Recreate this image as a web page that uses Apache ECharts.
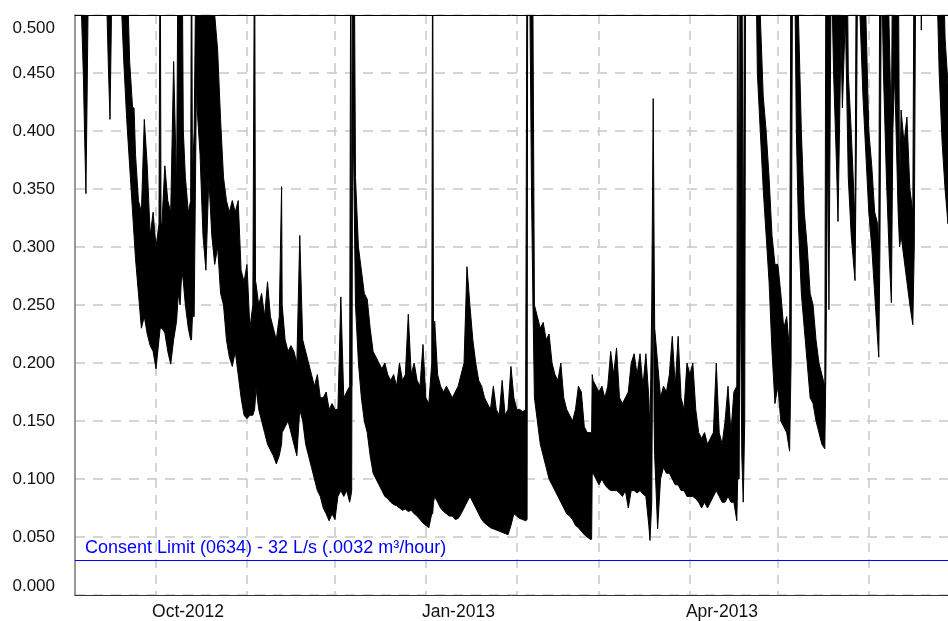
<!DOCTYPE html>
<html><head><meta charset="utf-8">
<script src="https://cdn.jsdelivr.net/npm/echarts@6/dist/echarts.min.js"></script>
<style>html,body{margin:0;padding:0;background:#fff}#c{width:948px;height:621px}</style>
</head><body><div id="c"></div>
<script>
// Flow record (m3/s) — envelope of the high-frequency trace.
// Time of each reading, in days since 2012-09-01 (UTC).
const seriesStart = [2012, 8, 1];
const dayOffset = [
 3,4.3,4.6,5.2,5.7,6.1,6.5,6.8,7.2,13.0,13.3,13.7,14.3,14.7,15.0,
 18,19,20,21,22,22.5,23,24,25,26,27,28,29,30,31,31.4,31.7,32,33,34,35,36,37,37.6,38.2,38.8,39.3,40,41,41.8,42.1,42.4,43,43.8,44,45,46,47,48,49,50,
 51,52,53,54,55,56,57,58,59,60,61,62,63,63.6,63.9,64,65,66,67,68,69,70,71,72,72.8,73,74,75,76,77,78,79,80,
 81,82,83,84,85,86,87,88,89,90,91,92,93,94,95,96,96.4,96.7,97,97.5,98,99,100,
 101,102,103,104,105,106,107,108,109,110,111,112,113,114,115,116,117,118,119,120,
 121,122,123,124,124.3,124.6,125,126,127,128,129,130,131,132,133,134,135,136,137,138,139,140,
 141,142,143,144,145,146,147,148,149,150,151,152,153,154,155,156,156.5,156.7,157.5,158,158.5,159,160,
 161,162,163,164,165,166,167,168,169,170,171,172,173,174,175,176,177,178,178.5,178.7,179,180,
 181,182,183,184,185,186,187,188,189,190,191,192,193,194,195,196,197,198,198.4,199,199.5,199.8,200,
 201,202,203,204,205,206,207,208,209,210,211,212,213,214,215,216,217,218,219,220,
 221,222,223,224,225,226,227,228,228.3,228.8,229.1,229.7,230.2,230.7,231,234.5,235,236,237,238,239,240,
 241,242,243,244,245,246,246.5,247,247.9,248.3,249,250,
 251,252,253,254,255,256,257,258,258.4,259,259.4,259.8,260.2,261,262,262.5,263,263.5,264,265,265.5,266,267,268,268.3,268.8,269.2,270,
 271,272,273,274,275,276,276.4,276.8,277.3,278,279,280,280.7,281.2,281.8,283,283.5,284,285,286,287,288,288.5,289,290.7,290.9,291.2,296,296.5,297,298,299,300
];
const dailyHigh = [
 .6,.6,.6,.6,.6,.6,.6,.6,.6,.6,.6,.6,.6,.6,.6,
 .6,.6,.55,.46,.42,.42,.38,.34,.33,.41,.37,.31,.33,.30,.32,.6,.32,.32,.37,.34,.33,.46,.35,.6,.6,.6,.40,.36,.33,.34,.6,.36,.40,.6,.6,.6,.6,.6,.6,.6,.5,
 .47,.41,.36,.34,.33,.34,.33,.34,.28,.27,.285,.23,.25,.6,.27,.27,.25,.26,.24,.27,.24,.23,.22,.24,.352,.25,.22,.21,.215,.21,.20,.31,.22,
 .21,.20,.19,.18,.19,.17,.17,.175,.16,.165,.16,.16,.257,.17,.175,.18,.6,.18,.6,.6,.36,.30,.28,
 .26,.255,.23,.21,.205,.20,.195,.20,.19,.185,.19,.18,.20,.185,.19,.242,.19,.20,.185,.18,
 .216,.17,.165,.20,.6,.20,.236,.19,.18,.175,.18,.175,.17,.175,.18,.19,.20,.283,.25,.22,.20,.185,
 .18,.17,.165,.16,.18,.16,.155,.185,.155,.16,.197,.17,.16,.16,.158,.16,.6,.6,.6,.6,.5,.25,.24,
 .23,.235,.22,.225,.20,.19,.185,.20,.17,.16,.155,.15,.16,.18,.175,.145,.14,.14,.14,.19,.185,.18,
 .175,.18,.17,.18,.21,.19,.213,.17,.165,.17,.175,.20,.208,.19,.208,.18,.208,.17,.14,.25,.428,.30,.23,
 .20,.17,.18,.175,.19,.223,.18,.223,.17,.16,.20,.19,.20,.16,.14,.135,.14,.13,.135,.14,
 .20,.14,.13,.15,.18,.14,.175,.18,.6,.2,.6,.6,.25,.6,.6,.6,.6,.5,.43,.40,.36,.31,
 .285,.285,.26,.23,.24,.21,.6,.6,.6,.6,.5,.40,
 .33,.30,.26,.25,.22,.20,.19,.18,.6,.6,.6,.6,.6,.6,.6,.6,.6,.6,.6,.6,.6,.45,.40,.34,.32,.6,.6,.6,
 .6,.5,.40,.37,.33,.32,.30,.6,.6,.6,.6,.48,.40,.6,.6,.6,.343,.418,.39,.412,.35,.33,.6,.6,.6,.6,.6,.6,.6,.6,.6,.48,.44
];
const dailyLow = [
 .55,.55,.5,.45,.39,.346,.43,.5,.55,.55,.5,.46,.41,.48,.55,
 .52,.46,.41,.37,.33,.31,.29,.26,.23,.24,.225,.215,.21,.195,.22,.23,.23,.23,.226,.21,.199,.22,.236,.26,.25,.28,.27,.25,.23,.22,.22,.24,.24,.45,.42,.38,.31,.28,.36,.31,.285,
 .30,.26,.25,.22,.205,.197,.21,.19,.17,.155,.152,.155,.155,.16,.17,.18,.16,.15,.14,.13,.125,.12,.113,.12,.13,.14,.145,.15,.14,.13,.12,.16,.15,
 .13,.12,.11,.10,.09,.085,.075,.07,.064,.07,.065,.085,.09,.085,.09,.08,.085,.09,.45,.35,.25,.20,.17,
 .15,.14,.12,.105,.10,.095,.09,.085,.083,.08,.078,.077,.075,.073,.074,.072,.073,.07,.068,.065,
 .062,.06,.058,.07,.07,.08,.085,.08,.075,.072,.07,.068,.068,.065,.066,.07,.075,.08,.085,.08,.075,.07,
 .065,.062,.06,.058,.057,.056,.055,.054,.053,.052,.06,.07,.068,.066,.065,.064,.065,.55,.5,.35,.25,.17,.15,
 .13,.12,.11,.10,.095,.09,.085,.08,.075,.07,.068,.065,.06,.058,.055,.052,.05,.048,.048,.105,.105,.10,
 .095,.10,.095,.092,.09,.09,.09,.088,.085,.09,.075,.09,.09,.088,.09,.087,.085,.06,.047,.08,.30,.15,.12,
 .057,.10,.11,.105,.105,.10,.095,.095,.09,.09,.085,.085,.085,.083,.08,.075,.08,.075,.08,.085,
 .09,.085,.08,.08,.085,.08,.08,.064,.10,.1,.3,.12,.08,.15,.55,.55,.45,.40,.35,.31,.27,.21,
 .165,.18,.15,.145,.14,.124,.2,.55,.5,.4,.32,.26,
 .23,.20,.17,.165,.15,.14,.13,.126,.2,.40,.246,.40,.55,.45,.37,.322,.40,.48,.42,.5,.43,.36,.31,.28,.271,.40,.55,.5,
 .43,.38,.33,.30,.26,.22,.205,.3,.55,.45,.36,.29,.252,.4,.45,.33,.30,.31,.29,.27,.25,.233,.3,.55,.55,.487,.55,.55,.5,.45,.39,.35,.32
];
if (dayOffset.length !== dailyHigh.length || dayOffset.length !== dailyLow.length) {
  throw new Error('length mismatch ' + dayOffset.length + ' ' + dailyHigh.length + ' ' + dailyLow.length);
}
// Axis ticks
const gridMonths = [[2012,9],[2012,10],[2012,11],[2013,0],[2013,1],[2013,2],[2013,3],[2013,4],[2013,5]];
const labelMonths = [[2012,9],[2013,0],[2013,3]];
const monthNames = ['Jan','Feb','Mar','Apr','May','Jun','Jul','Aug','Sep','Oct','Nov','Dec'];
const axisStartDay = 2.37, axisEndDay = 300;
const yMin = 0, yMax = 0.5, yStep = 0.05;
const consentLimit = 0.032;
const consentText = 'Consent Limit (0634) - 32 L/s (.0032 m³/hour)';

const DAY = 86400000;
const base = Date.UTC(seriesStart[0], seriesStart[1], seriesStart[2]);
const t = dayOffset.map(d => base + d * DAY);
const flowData = t.map((x, i) => [x, dailyLow[i], dailyHigh[i]]);
const gridTimes = gridMonths.map(m => Date.UTC(m[0], m[1], 1));
const labelTimes = labelMonths.map(m => Date.UTC(m[0], m[1], 1));
const FONT = 'Liberation Sans, Arial, Helvetica, sans-serif';
const xMin = base + axisStartDay * DAY, xMax = base + axisEndDay * DAY;

const chart = echarts.init(document.getElementById('c'), null, {renderer: 'canvas'});
chart.setOption({
  animation: false,
  backgroundColor: '#fff',
  grid: {left: 75, right: 0, top: 15, bottom: 25, containLabel: false},
  xAxis: [{
    type: 'value', min: xMin, max: xMax,
    axisLine: {show: true, lineStyle: {color: '#333', width: 1}},
    axisTick: {show: false, customValues: gridTimes},
    splitLine: {show: true, lineStyle: {color: '#c8c8c8', type: [9, 7], width: 1.5}},
    axisLabel: {
      customValues: labelTimes,
      formatter: v => { const d = new Date(v); return monthNames[d.getUTCMonth()] + '-' + d.getUTCFullYear(); },
      color: '#111', fontSize: 17.5, fontFamily: FONT, margin: 8, align: 'left', hideOverlap: false,
      padding: [0, 0, 0, -4]
    }
  }, {
    type: 'value', position: 'top', min: xMin, max: xMax,
    axisLine: {show: true, onZero: false, lineStyle: {color: '#000', width: 1}},
    axisTick: {show: false}, axisLabel: {show: false}, splitLine: {show: false}
  }],
  yAxis: {
    type: 'value', min: yMin, max: yMax, interval: yStep,
    axisLine: {show: true, lineStyle: {color: '#777', width: 1.5}},
    axisTick: {show: false},
    splitLine: {show: true, lineStyle: {color: '#c8c8c8', type: [10, 8], width: 1.5}},
    axisLabel: {
      formatter: v => v >= yMax ? '{top|' + v.toFixed(3) + '}' : v.toFixed(3),
      rich: {top: {fontSize: 17, fontFamily: FONT, color: '#111', padding: [5, 0, 0, 0]}},
      color: '#111', fontSize: 17, fontFamily: FONT, margin: 20,
      verticalAlignMinLabel: 'bottom', verticalAlignMaxLabel: 'top'
    }
  },
  series: [{
    type: 'custom', name: 'flow', data: flowData, clip: true, silent: true,
    encode: {x: 0, y: [1, 2]},
    renderItem: (params, api) => {
      if (params.dataIndex !== 0) return null;
      const lower = [], upper = [];
      for (let i = 0; i < flowData.length; i++) {
        lower.push(api.coord([flowData[i][0], flowData[i][1]]));
        upper.push(api.coord([flowData[i][0], flowData[i][2]]));
      }
      return {type: 'polygon', shape: {points: lower.concat(upper.reverse())},
        style: {fill: '#000', stroke: '#000', lineWidth: 1, lineJoin: 'miter'}};
    }
  }, {
    type: 'line', name: 'consent', data: [], symbol: 'none', silent: true,
    markLine: {
      silent: true, symbol: 'none', animation: false,
      lineStyle: {color: '#0000ff', type: 'solid', width: 1.2, opacity: 1},
      data: [{yAxis: consentLimit}],
      label: {show: true, position: 'insideStartTop', formatter: consentText, color: '#0000ff',
        fontSize: 18, fontFamily: FONT, distance: [10, 3]}
    }
  }]
});
</script></body></html>
